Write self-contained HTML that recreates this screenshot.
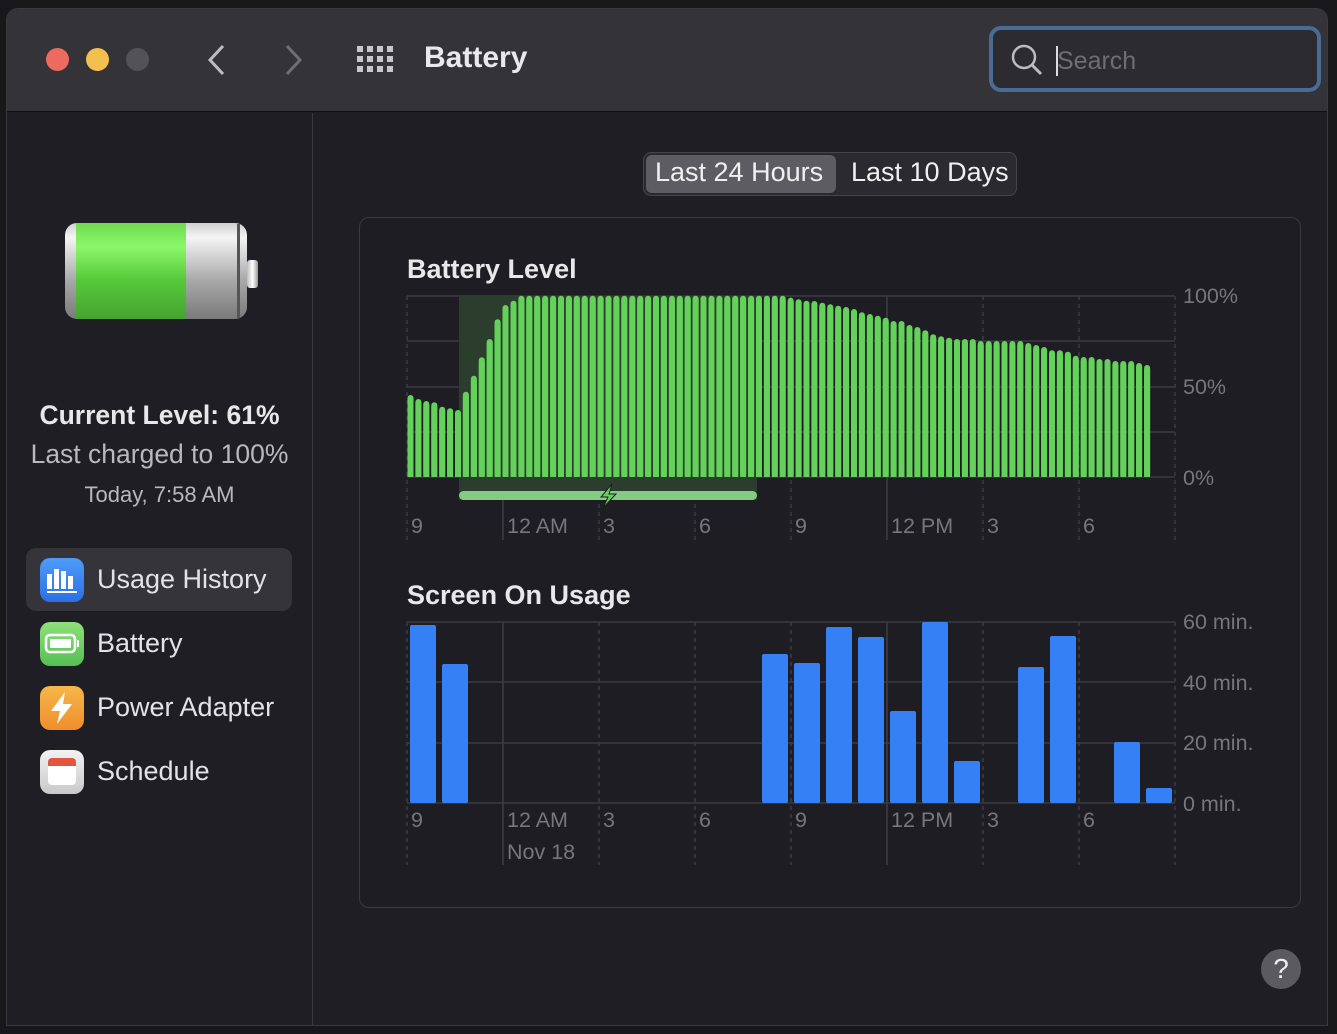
<!DOCTYPE html>
<html><head><meta charset="utf-8"><style>
*{margin:0;padding:0;box-sizing:border-box}
body{width:1337px;height:1034px;background:#18181a;font-family:"Liberation Sans",sans-serif;position:relative;overflow:hidden;color:#e6e6e8}
.win{position:absolute;left:6px;top:8px;width:1322px;height:1018px;background:#1f1e25;border-radius:12px 12px 0 0;overflow:hidden;border:1px solid #3a3a3e}
.title{position:absolute;left:0;top:0;width:100%;height:103px;background:#343338;border-bottom:1px solid #111}
.a{position:absolute}
.dot{position:absolute;width:23px;height:23px;border-radius:50%;top:39px}
.side{position:absolute;left:305px;top:104px;width:1px;height:920px;background:#38373d}
.lbl{position:absolute;font-size:21.5px;color:#77767b}
.ic{position:absolute;left:33px;width:44px;height:44px;border-radius:10px}
.nav{position:absolute;left:90px;font-size:27px;color:#e3e3e6}
</style></head><body>
<div class="win">
 <div class="title">
  <div class="dot" style="left:39px;background:#ed6a5e"></div>
  <div class="dot" style="left:79px;background:#f4bf4f"></div>
  <div class="dot" style="left:119px;background:#535257"></div>
  <svg class="a" style="left:200px;top:34px" width="20" height="34"><polyline points="16,3 3,17 16,31" fill="none" stroke="#bdbdc0" stroke-width="3"/></svg>
  <svg class="a" style="left:276px;top:34px" width="20" height="34"><polyline points="4,3 17,17 4,31" fill="none" stroke="#6f6e73" stroke-width="3"/></svg>
  <svg class="a" style="left:350px;top:37px" width="38" height="30">
   <g fill="#c8c8cb"><rect x="0" y="0" width="6" height="6"/><rect x="10" y="0" width="6" height="6"/><rect x="20" y="0" width="6" height="6"/><rect x="30" y="0" width="6" height="6"/><rect x="0" y="10" width="6" height="6"/><rect x="10" y="10" width="6" height="6"/><rect x="20" y="10" width="6" height="6"/><rect x="30" y="10" width="6" height="6"/><rect x="0" y="20" width="6" height="6"/><rect x="10" y="20" width="6" height="6"/><rect x="20" y="20" width="6" height="6"/><rect x="30" y="20" width="6" height="6"/></g></svg>
  <div class="a" style="left:417px;top:32px;font-size:30px;font-weight:bold;color:#e9e9eb">Battery</div>
  <div class="a" style="left:982px;top:17px;width:332px;height:66px;border:4px solid #4a6c94;border-radius:12px;background:#2c2b30"></div>
  <svg class="a" style="left:1003px;top:34px" width="36" height="36"><circle cx="14" cy="14" r="11" fill="none" stroke="#bcbcbf" stroke-width="2.5"/><line x1="22" y1="22" x2="31" y2="31" stroke="#bcbcbf" stroke-width="3"/></svg>
  <div class="a" style="left:1049px;top:37px;width:2px;height:30px;background:#ddd"></div>
  <div class="a" style="left:1050px;top:38px;font-size:25px;color:#6e6d72">Search</div>
 </div>
 <div class="side"></div>
 <div class="a" style="left:58px;top:214px;width:182px;height:96px;border-radius:12px;background:linear-gradient(#d0d0d0,#f5f5f5 15%,#a8a8a8 60%,#7a7a7a);"></div>
 <div class="a" style="left:69px;top:214px;width:110px;height:96px;background:linear-gradient(#6fdc50,#8bf76a 25%,#55c83a 60%,#46a42f)"></div>
 <div class="a" style="left:230px;top:215px;width:3px;height:94px;background:#555"></div>
 <div class="a" style="left:240px;top:251px;width:11px;height:28px;border-radius:3px;background:linear-gradient(90deg,#bbb,#fff,#999)"></div>
 <div class="a" style="left:0;width:305px;top:391px;text-align:center;font-size:26.5px;font-weight:bold;color:#e8e8ea">Current Level: 61%</div>
 <div class="a" style="left:0;width:305px;top:430px;text-align:center;font-size:26.5px;color:#b9b8bd">Last charged to 100%</div>
 <div class="a" style="left:0;width:305px;top:473px;text-align:center;font-size:22px;color:#b9b8bd">Today, 7:58 AM</div>
 <div class="a" style="left:19px;top:539px;width:266px;height:63px;border-radius:10px;background:#35343a"></div>
 <div class="ic" style="top:549px;background:linear-gradient(#4f9cf8,#2a6fe6)"><svg width="44" height="44"><g fill="#fff"><rect x="7" y="16" width="5" height="15"/><rect x="14" y="11" width="5" height="20"/><rect x="21" y="13" width="5" height="18"/><rect x="28" y="18" width="5" height="13"/><rect x="7" y="33" width="30" height="2"/></g></svg></div>
 <div class="nav" style="top:555px">Usage History</div>
 <div class="ic" style="top:613px;background:linear-gradient(#8fe07a,#55bf52)"><svg width="44" height="44"><rect x="6" y="13" width="29" height="17" rx="4" fill="none" stroke="#fff" stroke-width="2.5"/><rect x="10" y="17" width="21" height="9" rx="1" fill="#fff"/><rect x="37" y="18" width="2" height="7" fill="#fff"/></svg></div>
 <div class="nav" style="top:619px">Battery</div>
 <div class="ic" style="top:677px;background:linear-gradient(#f6b64a,#ef8f2c)"><svg width="44" height="44"><polygon points="25,6 11,25 20,25 17,38 32,18 23,18" fill="#fff"/></svg></div>
 <div class="nav" style="top:683px">Power Adapter</div>
 <div class="ic" style="top:741px;background:linear-gradient(#f2f2f2,#c9c9cc)"><div class="a" style="left:8px;top:8px;width:28px;height:27px;background:#fff;border-radius:4px;overflow:hidden"><div style="height:8px;background:#e2553f"></div></div></div>
 <div class="nav" style="top:747px">Schedule</div>
 <div class="a" style="left:636px;top:143px;width:374px;height:44px;border-radius:8px;background:#2b2a30;border:1px solid #46454b"></div>
 <div class="a" style="left:639px;top:146px;width:190px;height:38px;border-radius:6px;background:#5d5c62"></div>
 <div class="a" style="left:648px;top:148px;font-size:27px;color:#f0f0f2">Last 24 Hours</div>
 <div class="a" style="left:844px;top:148px;font-size:27px;color:#f0f0f2">Last 10 Days</div>
 <div class="a" style="left:352px;top:208px;width:942px;height:691px;border-radius:10px;border:1px solid #3a3940;background:#1e1d24"></div>
 <div class="a" style="left:400px;top:245px;font-size:27px;font-weight:bold;color:#e8e8ea">Battery Level</div>
 <div class="a" style="left:400px;top:571px;font-size:27px;font-weight:bold;color:#e8e8ea">Screen On Usage</div>
 <div class="a" style="left:1254px;top:940px;width:40px;height:40px;border-radius:50%;background:#5b5a60;color:#eee;font-size:28px;text-align:center;line-height:40px">?</div>
</div>
<svg class="a" style="left:0;top:0" width="1337" height="1034" id="ch"></svg>
<div class="lbl" style="left:1183px;top:284px">100%</div>
<div class="lbl" style="left:1183px;top:375px">50%</div>
<div class="lbl" style="left:1183px;top:466px">0%</div>
<div class="lbl" style="left:1183px;top:610px">60 min.</div>
<div class="lbl" style="left:1183px;top:671px">40 min.</div>
<div class="lbl" style="left:1183px;top:731px">20 min.</div>
<div class="lbl" style="left:1183px;top:792px">0 min.</div>
<div id="tk"></div>
<div class="lbl" style="left:507px;top:840px">Nov 18</div>
<script>
var s='';
function L(x1,y1,x2,y2,c,d){s+='<line x1="'+x1+'" y1="'+y1+'" x2="'+x2+'" y2="'+y2+'" stroke="'+c+'" stroke-width="1.5"'+(d?' stroke-dasharray="4,4"':'')+'/>';}
var vx=[407,503,599,695,791,887,983,1079,1175];
[296,341,387,432,477].forEach(function(y){L(407,y,1175,y,'#3b3a41');});
[622,682,743,803].forEach(function(y){L(407,y,1175,y,'#3b3a41');});
vx.forEach(function(x,i){var sol=(i==1||i==5);L(x,296,x,540,sol?'#3e3d44':'#3b3a41',!sol);L(x,622,x,865,sol?'#3e3d44':'#3b3a41',!sol);});
s+='<rect x="459" y="296" width="298" height="204" fill="#2b3d2c"/>';
s+='<rect x="459" y="491" width="298" height="9" rx="4.5" fill="#86cb84"/>';
s+='<polygon points="612,484 601,497 608,497 603,508 616,494 609,494" fill="#65d05a" stroke="#1e1d24" stroke-width="1"/>';
var z=[330,342,348,352,365,370,375,320,272,217,162,103,60,47];
for(var i=14;i<46;i++)z.push(32);
z=z.concat([32,32,38,43,47,48,53,58,62,66,72,82,87,92,98,108,108,120,126,136,148,154,158,162,162,162,168,168,168,168,168,168,174,180,186,196,196,200,212,216,216,222,222,228,228,228,234,240]);
for(var i=0;i<z.length;i++){var x=407.5+i*7.92,t=285+z[i]/3;s+='<rect x="'+x.toFixed(1)+'" y="'+t.toFixed(1)+'" width="6" height="'+(477-t).toFixed(1)+'" rx="3" fill="#63d15a"/><rect x="'+x.toFixed(1)+'" y="'+(t+4).toFixed(1)+'" width="6" height="'+(473-t).toFixed(1)+'" fill="#63d15a"/>';}
var b=[[410,625],[442,664],[762,654],[794,663],[826,627],[858,637],[890,711],[922,622],[954,761],[1018,667],[1050,636],[1114,742],[1146,788]];
b.forEach(function(p){s+='<rect x="'+p[0]+'" y="'+p[1]+'" width="26" height="'+(803-p[1])+'" rx="2" fill="#3580f5"/>';});
document.getElementById('ch').innerHTML=s;
var lab=['9','12 AM','3','6','9','12 PM','3','6'],h='';
lab.forEach(function(t,i){h+='<div class="lbl" style="left:'+(vx[i]+4)+'px;top:514px">'+t+'</div><div class="lbl" style="left:'+(vx[i]+4)+'px;top:808px">'+t+'</div>';});
document.getElementById('tk').innerHTML=h;
</script>
</body></html>
